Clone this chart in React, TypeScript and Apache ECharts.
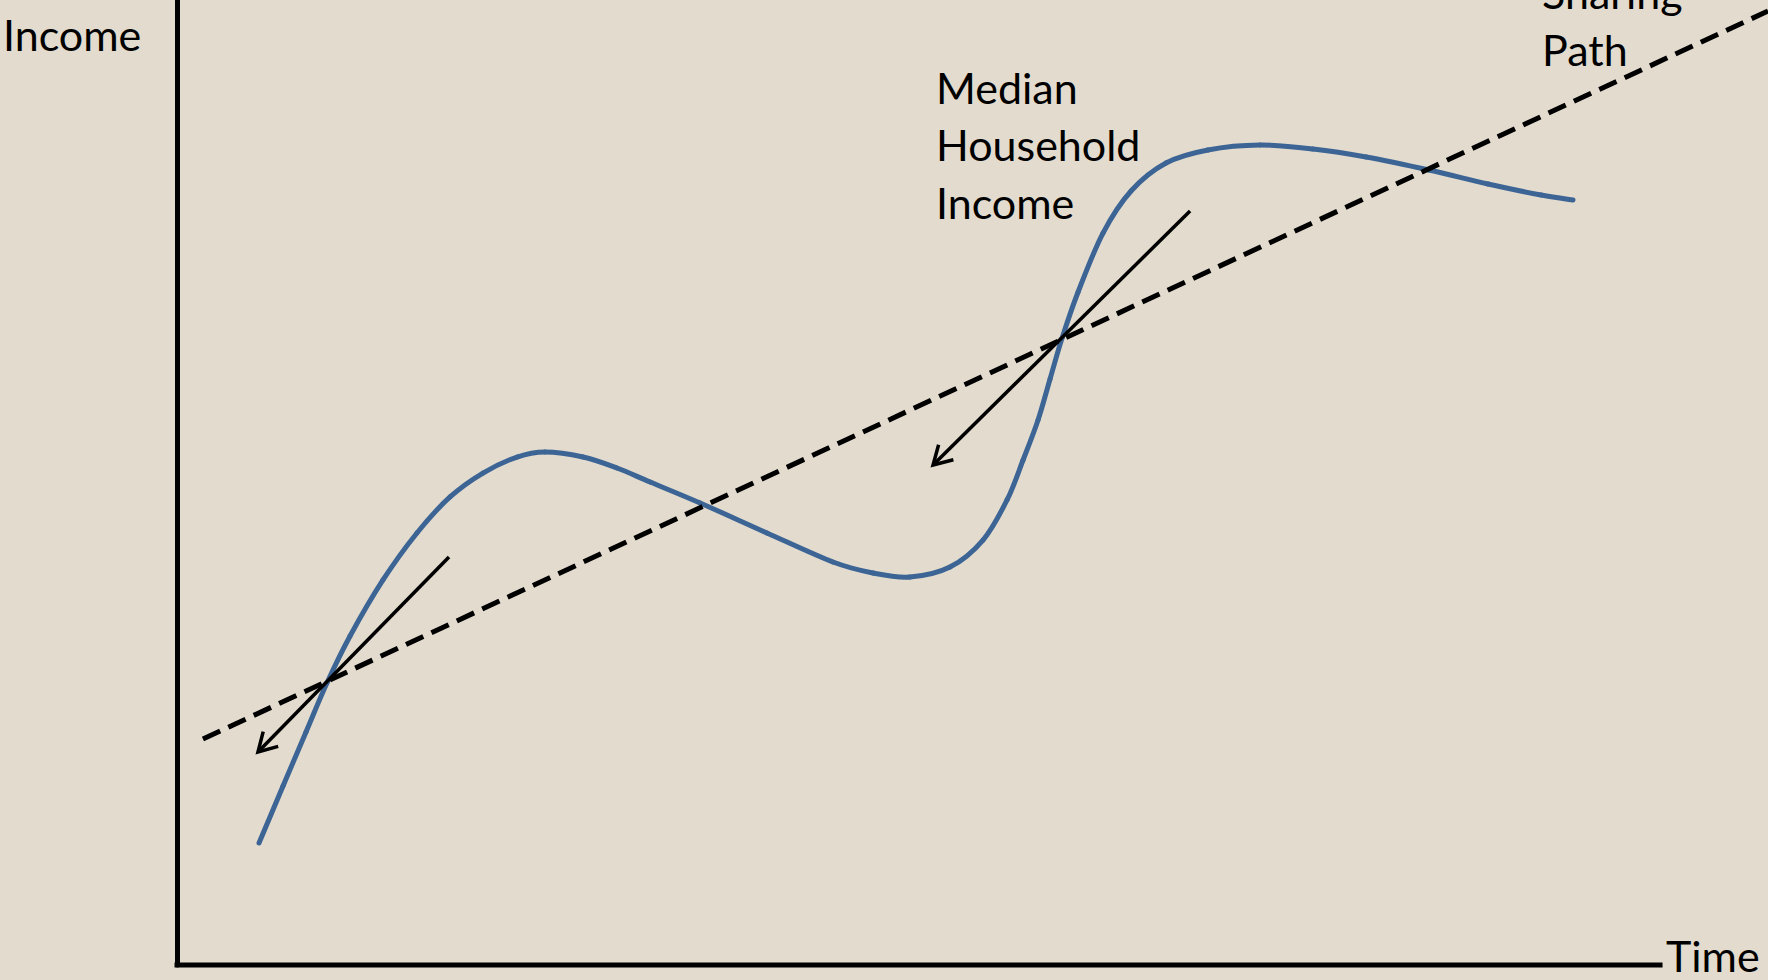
import React, { useEffect, useRef } from "react";
import * as echarts from "echarts";

// Time (x) and median household income (y), in chart units (0–100 on both axes)
const timeValues = [5.53, 7.15, 8.70, 10.11, 11.67, 13.89, 16.18, 18.41, 20.63, 22.93, 24.81, 27.38, 29.67, 31.90, 35.27, 39.78, 44.23, 46.93, 49.43, 52.12, 54.35, 55.97, 57.05, 58.06, 58.87, 59.68, 60.76, 62.44, 64.33, 66.69, 69.52, 73.03, 76.60, 80.18, 84.42, 88.40, 91.98, 94.13];
const medianIncome = [12.64, 18.55, 24.15, 29.22, 34.09, 39.90, 44.77, 48.50, 50.98, 52.64, 53.16, 52.64, 51.50, 50.05, 47.88, 44.77, 41.76, 40.62, 40.21, 41.24, 44.04, 48.19, 52.33, 56.48, 60.73, 64.97, 69.74, 75.85, 80.21, 83.11, 84.46, 84.97, 84.56, 83.73, 82.38, 80.93, 79.79, 79.27];

// Income-sharing path (straight dashed trend)
const sharingPathTime = [1.75, 107.28];
const sharingPathIncome = [23.42, 98.86];

// Arrows: start (x,y) -> end (x,y)
const arrowFromTime = [18.34, 68.31];
const arrowFromIncome = [42.28, 78.13];
const arrowToTime = [5.46, 50.98];
const arrowToIncome = [22.07, 51.81];

// Horizontal (time) axis extent
const timeAxisStart = 0;
const timeAxisEnd = 100;

const axisMin = 0;
const xAxisMax = 107.28;
const yAxisMax = 100;

const FONT = "Lato, 'Open Sans', sans-serif";

export default function App() {
  const ref = useRef<HTMLDivElement>(null);

  useEffect(() => {
    if (!ref.current) return;
    const chart = echarts.init(ref.current, undefined, { renderer: "svg" });

    const curveData = timeValues.map((t, i) => [t, medianIncome[i]]);
    const pathData = sharingPathTime.map((t, i) => [t, sharingPathIncome[i]]);
    const arrowData = arrowFromTime.map((t, i) => [t, arrowFromIncome[i], arrowToTime[i], arrowToIncome[i]]);

    const textStyle = { fill: "#000", fontSize: 43, fontFamily: FONT, textVerticalAlign: "middle" };
    const n = curveData.length;

    chart.setOption({
      animation: false,
      backgroundColor: "#e2dbce",
      grid: { left: 177, right: 0, top: 0, bottom: 15 },
      xAxis: {
        type: "value",
        min: axisMin,
        max: xAxisMax,
        axisLine: { show: false },
        axisTick: { show: false },
        axisLabel: { show: false },
        splitLine: { show: false },
      },
      yAxis: {
        type: "value",
        min: axisMin,
        max: yAxisMax,
        axisLine: { show: true, lineStyle: { color: "#000", width: 5 } },
        axisTick: { show: false },
        axisLabel: { show: false },
        splitLine: { show: false },
      },
      series: [
        {
          name: "Time axis",
          type: "line",
          data: [[timeAxisStart, 0], [timeAxisEnd, 0]],
          showSymbol: false,
          symbol: "none",
          clip: false,
          silent: true,
          lineStyle: { color: "#000", width: 5, cap: "square" },
        },
        {
          name: "Median Household Income",
          type: "custom",
          clip: false,
          data: curveData,
          encode: { x: 0, y: 1 },
          renderItem: (params: any, api: any) => {
            const i = params.dataIndex;
            if (i >= n - 1) return null;
            const P = (k: number) => {
              const kk = Math.max(0, Math.min(n - 1, k));
              return api.coord(curveData[kk]);
            };
            const p0 = P(i - 1);
            const p1 = P(i);
            const p2 = P(i + 1);
            const p3 = P(i + 2);
            const cp1 = [p1[0] + (p2[0] - p0[0]) / 6, p1[1] + (p2[1] - p0[1]) / 6];
            const cp2 = [p2[0] - (p3[0] - p1[0]) / 6, p2[1] - (p3[1] - p1[1]) / 6];
            return {
              type: "bezierCurve",
              shape: { x1: p1[0], y1: p1[1], x2: p2[0], y2: p2[1], cpx1: cp1[0], cpy1: cp1[1], cpx2: cp2[0], cpy2: cp2[1] },
              style: { stroke: "#3c6494", lineWidth: 5, fill: null, lineCap: "round" },
            };
          },
        },
        {
          name: "Sharing Path",
          type: "line",
          data: pathData,
          showSymbol: false,
          symbol: "none",
          clip: false,
          lineStyle: { color: "#000", width: 5, type: [19, 9] },
        },
        {
          name: "arrows",
          type: "custom",
          clip: false,
          data: arrowData,
          encode: { x: [0, 2], y: [1, 3] },
          renderItem: (params: any, api: any) => {
            const p1 = api.coord([api.value(0), api.value(1)]);
            const p2 = api.coord([api.value(2), api.value(3)]);
            const ang = Math.atan2(p1[1] - p2[1], p1[0] - p2[0]);
            const L = 21;
            const a = Math.PI / 6;
            const h1 = [p2[0] + L * Math.cos(ang + a), p2[1] + L * Math.sin(ang + a)];
            const h2 = [p2[0] + L * Math.cos(ang - a), p2[1] + L * Math.sin(ang - a)];
            return {
              type: "group",
              children: [
                { type: "line", shape: { x1: p1[0], y1: p1[1], x2: p2[0], y2: p2[1] }, style: { stroke: "#000", lineWidth: 3.5 } },
                { type: "polyline", shape: { points: [h1, p2, h2] }, style: { stroke: "#000", lineWidth: 3.5, fill: null } },
              ],
            };
          },
        },
      ],
      graphic: [
        { type: "text", left: 3, top: 13, style: { ...textStyle, text: "Income", textVerticalAlign: "top" } },
        { type: "text", left: 1666, top: 934, style: { ...textStyle, text: "Time", textVerticalAlign: "top" } },
        { type: "text", x: 936, y: 87, style: { ...textStyle, text: "Median" } },
        { type: "text", x: 936, y: 144, style: { ...textStyle, text: "Household" } },
        { type: "text", x: 936, y: 202, style: { ...textStyle, text: "Income" } },
        { type: "text", x: 1542, y: -8, style: { ...textStyle, text: "Sharing" } },
        { type: "text", x: 1542, y: 49, style: { ...textStyle, text: "Path" } },
      ],
    });

    return () => chart.dispose();
  }, []);

  return (
    <div
      ref={ref}
      style={{ position: "fixed", left: 0, top: 0, width: 1768, height: 980 }}
    />
  );
}
